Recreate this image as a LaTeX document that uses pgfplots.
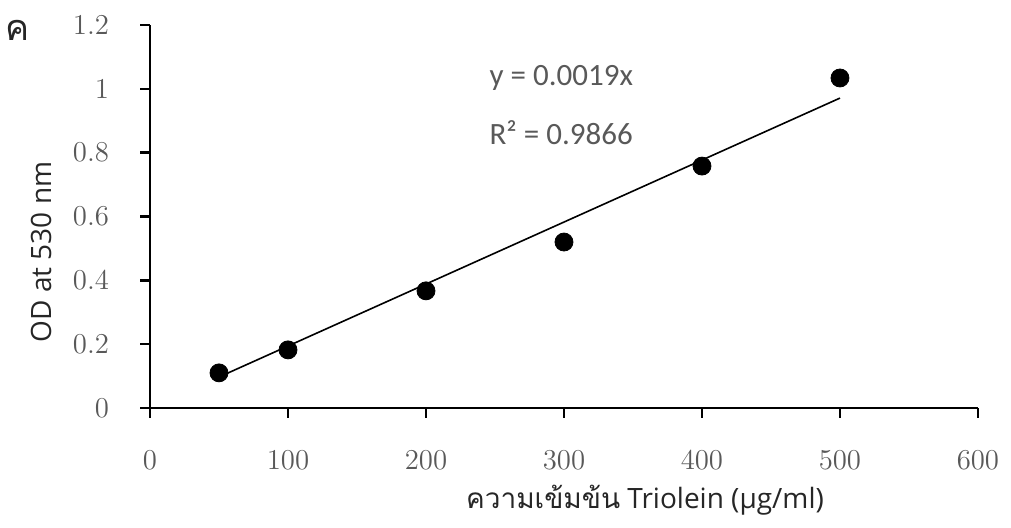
\documentclass[border=0pt]{standalone}
\usepackage{pgfplots}
\pgfplotsset{compat=1.18}
\usepackage{fontspec}
\setmainfont{Open Sans}
\newfontfamily\thaifont[Script=Thai]{Loma}
\newfontfamily\eqfont{Carlito}
\definecolor{labelgray}{HTML}{595959}
\definecolor{textdark}{HTML}{262626}

\begin{document}
\begin{tikzpicture}
\begin{axis}[
  scale only axis,
  width=414pt, height=191.5pt,
  xmin=0, xmax=600, ymin=0, ymax=1.2,
  axis x line*=bottom, axis y line*=left,
  axis line style={line width=1.25pt, black},
  tick align=outside,
  major tick length=5pt,
  tick style={line width=1.25pt, black},
  xtick={0,100,200,300,400,500,600},
  ytick={0,0.2,0.4,0.6,0.8,1,1.2},
  ticklabel style={font=\fontsize{15}{17}\selectfont, text=labelgray},
  xticklabel style={yshift=-13pt},
  yticklabel style={xshift=-12pt},
  clip=false,
]
% measured optical densities
\addplot[only marks, mark=*, mark size=4.5pt, black]
  coordinates {(50,0.110) (100,0.182) (200,0.367) (300,0.520) (400,0.758) (500,1.034)};
% linear fit through the origin
\addplot[black, line width=0.8pt]
  coordinates {(50,0.097) (500,0.971)};

\node[anchor=west, text=labelgray, font=\eqfont\fontsize{15.5}{17}\selectfont]
  at (axis cs:241,1.034) {y = 0.0019x};
\node[anchor=west, text=labelgray, font=\eqfont\fontsize{15.5}{17}\selectfont]
  at (axis cs:241,0.862) {R² = 0.9866};

\node[font=\thaifont\fontsize{18}{20}\selectfont, text=textdark]
  at (axis cs:-96,1.184) {ค};
\node[rotate=90, font=\fontsize{14}{16}\selectfont, text=textdark]
  at (axis cs:-78.3,0.489) {OD at 530 nm};
\node[font=\fontsize{14}{16}\selectfont, text=textdark]
  at (axis cs:358.7,-0.288) {{\thaifont ความเข้มข้น} Triolein (µg/ml)};

\coordinate (bl) at (rel axis cs:-0.1812,-0.3133);
\coordinate (tr) at (rel axis cs:1.0399,1.0653);
\end{axis}
\pgfresetboundingbox
\path (bl) rectangle (tr);
\end{tikzpicture}
\end{document}
